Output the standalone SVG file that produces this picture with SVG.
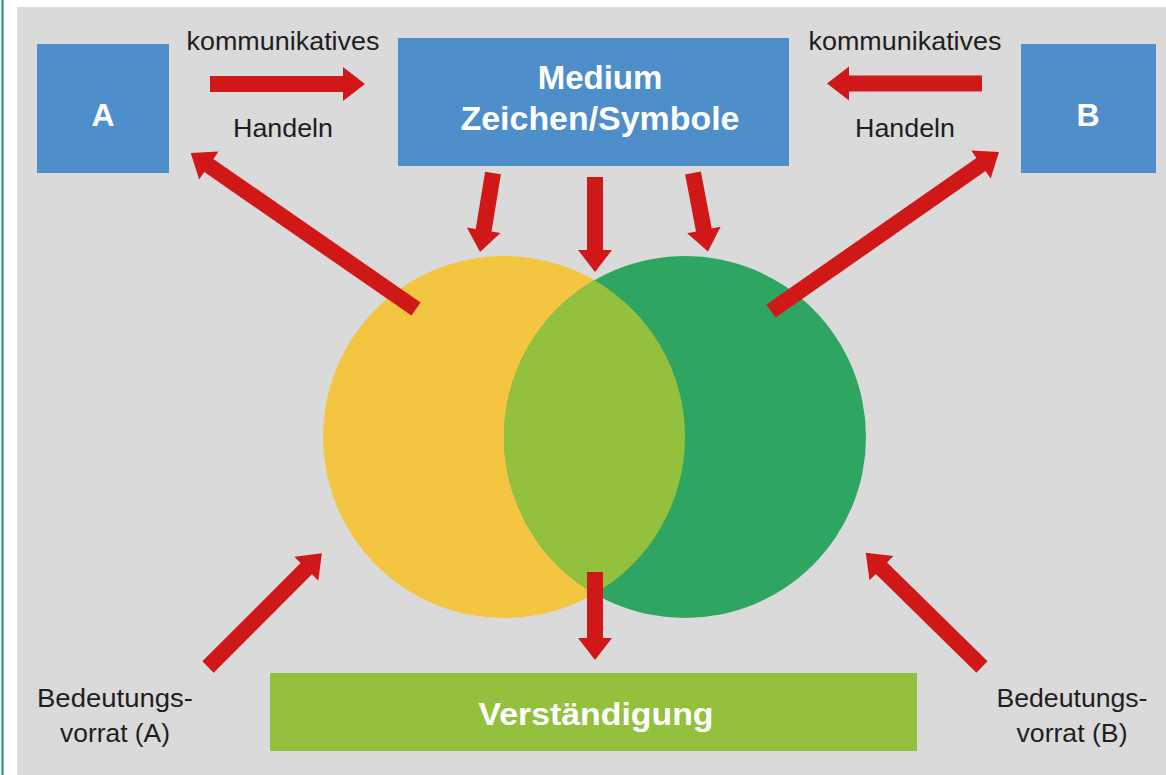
<svg xmlns="http://www.w3.org/2000/svg" width="1166" height="775" viewBox="0 0 1166 775">
<style>
.lbl{font-family:"Liberation Sans",Arial,sans-serif;font-size:26px;fill:#1e1e1e;text-anchor:middle}
.wt{font-family:"Liberation Sans",Arial,sans-serif;font-weight:bold;fill:#ffffff;text-anchor:middle}
.box{fill:#4E8ECB}
.arr{fill:#D01818}
</style>
<rect x="0" y="0" width="1166" height="775" fill="#ffffff"/>
<rect x="17" y="7" width="1149" height="768" fill="#DADADA"/>
<line x1="2.5" y1="0" x2="2.5" y2="775" stroke="#17956C" stroke-width="2"/>

<g id="circles">
<circle cx="504" cy="437" r="181" fill="#F3C540"/>
<circle cx="685" cy="437" r="181" fill="#2EA662"/>
<path d="M594.5,280.25 A181,181 0 0,0 594.5,593.75 A181,181 0 0,0 594.5,280.25 Z" fill="#94C13D"/>
</g>

<g id="nodeA"><rect class="box" x="37" y="44" width="132" height="129"/><text class="wt" x="103" y="126" font-size="32">A</text></g>
<g id="nodeB"><rect class="box" x="1021" y="44" width="135" height="129"/><text class="wt" x="1088" y="126" font-size="32">B</text></g>
<g id="medium"><rect class="box" x="398" y="38" width="391" height="128"/>
<text class="wt" x="600" y="89" font-size="33">Medium</text>
<text class="wt" x="600" y="130" font-size="33" textLength="279" lengthAdjust="spacingAndGlyphs">Zeichen/Symbole</text></g>
<g id="verstaendigung"><rect x="270" y="673" width="647" height="78" fill="#94C13D"/>
<text class="wt" x="596" y="725" font-size="32" textLength="235" lengthAdjust="spacingAndGlyphs">Verständigung</text></g>

<g id="labels">
<text class="lbl" x="283" y="50" textLength="193" lengthAdjust="spacingAndGlyphs">kommunikatives</text>
<text class="lbl" x="283" y="137" textLength="100" lengthAdjust="spacingAndGlyphs">Handeln</text>
<text class="lbl" x="905" y="50" textLength="193" lengthAdjust="spacingAndGlyphs">kommunikatives</text>
<text class="lbl" x="905" y="137" textLength="100" lengthAdjust="spacingAndGlyphs">Handeln</text>
<text class="lbl" x="115" y="707" textLength="156" lengthAdjust="spacingAndGlyphs">Bedeutungs-</text>
<text class="lbl" x="115" y="742" textLength="110" lengthAdjust="spacingAndGlyphs">vorrat (A)</text>
<text class="lbl" x="1072" y="707" textLength="151" lengthAdjust="spacingAndGlyphs">Bedeutungs-</text>
<text class="lbl" x="1072" y="742" textLength="111" lengthAdjust="spacingAndGlyphs">vorrat (B)</text>
</g>

<g id="connectors">
<polygon class="arr" transform="translate(210,84)" points="0,-8 133,-8 133,-17 155,0 133,17 133,8 0,8"/>
<polygon class="arr" transform="translate(982,83.5) rotate(180)" points="0,-8 133,-8 133,-17 155,0 133,17 133,8 0,8"/>
<polygon class="arr" transform="translate(493,173) rotate(99.3)" points="0,-8 58,-8 58,-17 80,0 58,17 58,8 0,8"/>
<polygon class="arr" transform="translate(595,177) rotate(90)" points="0,-8 73,-8 73,-17 95,0 73,17 73,8 0,8"/>
<polygon class="arr" transform="translate(693,173) rotate(79.2)" points="0,-8 58,-8 58,-17 80,0 58,17 58,8 0,8"/>
<polygon class="arr" transform="translate(595,572) rotate(90)" points="0,-8 66,-8 66,-17 88,0 66,17 66,8 0,8"/>
<polygon class="arr" transform="translate(416,309) rotate(-145.3)" points="0,-8 252,-8 252,-17 274,0 252,17 252,8 0,8"/>
<polygon class="arr" transform="translate(771,311) rotate(-34.9)" points="0,-8 256,-8 256,-17 278,0 256,17 256,8 0,8"/>
<polygon class="arr" transform="translate(208,667) rotate(-45)" points="0,-8 139,-8 139,-17 161,0 139,17 139,8 0,8"/>
<polygon class="arr" transform="translate(982,667) rotate(-135.5)" points="0,-8 141,-8 141,-17 163,0 141,17 141,8 0,8"/>
</g>
</svg>
